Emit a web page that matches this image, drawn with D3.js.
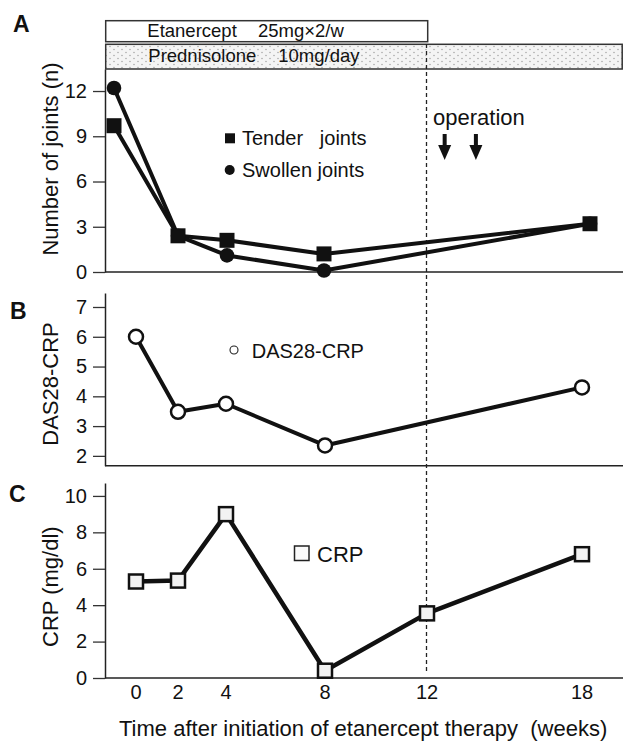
<!DOCTYPE html>
<html>
<head>
<meta charset="utf-8">
<script src="https://cdn.jsdelivr.net/npm/d3@7"></script>
<style>
    body { margin: 0; background: #fff; }
    svg { font-family: "Liberation Sans", Arial, Helvetica, sans-serif; }
</style>
</head>
<body>
<div id="chart"></div>
<script>

// data
var jointWeeks = [0, 2, 4, 8, 18];
var tenderJoints = [9.7, 2.4, 2.1, 1.2, 3.2];
var swollenJoints = [12.2, 2.4, 1.1, 0.1, 3.2];

var dasWeeks = [0, 2, 4, 8, 18];
var das28Crp = [6.0, 3.48, 3.75, 2.35, 4.3];

var crpWeeks = [0, 2, 4, 8, 12, 18];
var crpValues = [5.3, 5.35, 9.0, 0.4, 3.55, 6.8];

var weekTicks = [0, 2, 4, 8, 12, 18];
var jointTicks = [0, 3, 6, 9, 12];
var dasTicks = [2, 3, 4, 5, 6, 7];
var crpTicks = [0, 2, 4, 6, 8, 10];
var operationWeeks = [12.65, 13.8];

var width = 623, height = 741;
var axisX = 105, rightX = 623;

var svg = d3.select("#chart").append("svg")
    .attr("width", width)
    .attr("height", height);

// dotted fill for the prednisolone bar
var pat = svg.append("defs").append("pattern")
    .attr("id", "dots")
    .attr("patternUnits", "userSpaceOnUse")
    .attr("width", 8)
    .attr("height", 6);
pat.append("rect").attr("width", 8).attr("height", 6).attr("fill", "#f4f4f4");
pat.append("circle").attr("cx", 2).attr("cy", 1.5).attr("r", 0.7).attr("fill", "#9a9a9a");
pat.append("circle").attr("cx", 6).attr("cy", 4.5).attr("r", 0.7).attr("fill", "#9a9a9a");

// x scales (the original is hand drawn, so the week spacing is uneven)
var xA = d3.scaleLinear().domain(weekTicks).range([114, 178, 227, 324, 427, 590]);
var xBC = d3.scaleLinear().domain(weekTicks).range([136, 178, 226, 325, 427, 582]);

var yA = d3.scaleLinear().domain([0, 13.46]).range([272, 69]);
var yB = d3.scaleLinear().domain([1.67, 7.47]).range([465.7, 293]);
var yC = d3.scaleLinear().domain([0, 10.71]).range([678, 483]);

function drawYAxis(scale, ticks) {
    var g = svg.append("g")
        .attr("transform", "translate(" + axisX + ",0)")
        .call(d3.axisLeft(scale).tickValues(ticks).tickFormat(d3.format("d"))
            .tickSize(12).tickSizeOuter(0).tickPadding(6));
    g.select(".domain").attr("stroke", "#222").attr("stroke-width", 1.5);
    g.selectAll(".tick line").attr("stroke", "#333").attr("stroke-width", 1.3);
    g.selectAll(".tick text")
        .attr("fill", "#111")
        .style("font-size", "20px")
        .style("font-family", "'Liberation Sans', Arial, sans-serif");
    // baseline
    svg.append("line")
        .attr("x1", axisX).attr("x2", rightX)
        .attr("y1", scale.range()[0]).attr("y2", scale.range()[0])
        .attr("stroke", "#222").attr("stroke-width", 1.5);
}

function yTitle(txt, cy) {
    svg.append("text")
        .attr("transform", "translate(58," + cy + ") rotate(-90)")
        .attr("text-anchor", "middle")
        .style("font-size", "22px")
        .attr("fill", "#111")
        .text(txt);
}

function panelLabel(txt, x, y) {
    svg.append("text")
        .attr("x", x).attr("y", y)
        .style("font-size", "23px")
        .style("font-weight", "bold")
        .attr("fill", "#111")
        .text(txt);
}

// treatment bars
svg.append("rect")
    .attr("x", axisX + 0.7).attr("y", 20.7)
    .attr("width", xBC(12) - axisX).attr("height", 21)
    .attr("fill", "#fff").attr("stroke", "#333").attr("stroke-width", 1.5);
svg.append("rect")
    .attr("x", axisX + 0.7).attr("y", 44.3)
    .attr("width", rightX - axisX - 1.5).attr("height", 24.7)
    .attr("fill", "url(#dots)").attr("stroke", "#333").attr("stroke-width", 1.5);

var barText = svg.append("text").attr("y", 36.7).style("font-size", "18.5px").attr("fill", "#111");
barText.append("tspan").attr("x", 147.3).text("Etanercept");
barText.append("tspan").attr("x", 258).text("25mg\u00d72/w");
var predText = svg.append("text").attr("y", 62.3).style("font-size", "18.5px").attr("fill", "#111");
predText.append("tspan").attr("x", 148.3).text("Prednisolone");
predText.append("tspan").attr("x", 278.3).text("10mg/day");

// dashed line at week 12
svg.append("line")
    .attr("x1", xBC(12) - 0.5).attr("x2", xBC(12) - 0.5)
    .attr("y1", 44).attr("y2", 672)
    .attr("stroke", "#222").attr("stroke-width", 1.3)
    .attr("stroke-dasharray", "4,3");

// ---------- panel A ----------
panelLabel("A", 13, 31.7);
drawYAxis(yA, jointTicks);
yTitle("Number of joints (n)", 159);

var lineA = function (vals) {
    return d3.line()
        .x(function (d, i) { return xA(jointWeeks[i]); })
        .y(function (d) { return yA(d); })(vals);
};

svg.append("path").attr("d", lineA(tenderJoints))
    .attr("fill", "none").attr("stroke", "#111").attr("stroke-width", 4).attr("stroke-linejoin", "round");
svg.append("path").attr("d", lineA(swollenJoints))
    .attr("fill", "none").attr("stroke", "#111").attr("stroke-width", 4).attr("stroke-linejoin", "round");

svg.selectAll(".tender").data(tenderJoints).enter().append("rect")
    .attr("class", "tender")
    .attr("x", function (d, i) { return xA(jointWeeks[i]) - 7.5; })
    .attr("y", function (d) { return yA(d) - 7.5; })
    .attr("width", 15).attr("height", 15)
    .attr("fill", "#111");
svg.selectAll(".swollen").data(swollenJoints).enter().append("circle")
    .attr("class", "swollen")
    .attr("cx", function (d, i) { return xA(jointWeeks[i]); })
    .attr("cy", function (d) { return yA(d); })
    .attr("r", 7.3)
    .attr("fill", "#111");

// legend A
svg.append("rect").attr("x", 225).attr("y", 133.3).attr("width", 10).attr("height", 10).attr("fill", "#111");
svg.append("text").attr("x", 242).attr("y", 145.3).style("font-size", "20px").attr("fill", "#111")
    .style("white-space", "pre").text("Tender   joints");
svg.append("circle").attr("cx", 229.7).attr("cy", 170).attr("r", 5).attr("fill", "#111");
svg.append("text").attr("x", 242).attr("y", 176.5).style("font-size", "20px").attr("fill", "#111")
    .text("Swollen joints");

// operation arrows
svg.append("text").attr("x", 433).attr("y", 125).style("font-size", "22px").attr("fill", "#111").text("operation");
operationWeeks.forEach(function (w) {
    var cx = xA(w);
    svg.append("rect").attr("x", cx - 2).attr("y", 134).attr("width", 4).attr("height", 13).attr("fill", "#111");
    svg.append("path")
        .attr("d", "M" + (cx - 6.5) + ",145L" + (cx + 6.5) + ",145L" + cx + ",160Z")
        .attr("fill", "#111");
});

// ---------- panel B ----------
panelLabel("B", 10, 319);
drawYAxis(yB, dasTicks);
yTitle("DAS28-CRP", 384);

var lineB = d3.line()
    .x(function (d, i) { return xBC(dasWeeks[i]); })
    .y(function (d) { return yB(d); });
svg.append("path").attr("d", lineB(das28Crp))
    .attr("fill", "none").attr("stroke", "#111").attr("stroke-width", 4).attr("stroke-linejoin", "round");
svg.selectAll(".das").data(das28Crp).enter().append("circle")
    .attr("class", "das")
    .attr("cx", function (d, i) { return xBC(dasWeeks[i]); })
    .attr("cy", function (d) { return yB(d); })
    .attr("r", 7)
    .attr("fill", "#fff").attr("stroke", "#111").attr("stroke-width", 2.5);

svg.append("circle").attr("cx", 234).attr("cy", 350).attr("r", 4).attr("fill", "#fff").attr("stroke", "#222").attr("stroke-width", 1.1);
svg.append("text").attr("x", 251.7).attr("y", 358).style("font-size", "20px").attr("fill", "#111").text("DAS28-CRP");

// ---------- panel C ----------
panelLabel("C", 9, 501.7);
drawYAxis(yC, crpTicks);
yTitle("CRP (mg/dl)", 586.7);

var lineC = d3.line()
    .x(function (d, i) { return xBC(crpWeeks[i]); })
    .y(function (d) { return yC(d); });
svg.append("path").attr("d", lineC(crpValues))
    .attr("fill", "none").attr("stroke", "#111").attr("stroke-width", 4.5).attr("stroke-linejoin", "round");
svg.selectAll(".crp").data(crpValues).enter().append("rect")
    .attr("class", "crp")
    .attr("x", function (d, i) { return xBC(crpWeeks[i]) - 7; })
    .attr("y", function (d) { return yC(d) - 7; })
    .attr("width", 14).attr("height", 14)
    .attr("fill", "#f2f2f2").attr("stroke", "#111").attr("stroke-width", 2.5);

svg.append("rect").attr("x", 294.5).attr("y", 546).attr("width", 14.5).attr("height", 14.5)
    .attr("fill", "#fafafa").attr("stroke", "#222").attr("stroke-width", 1.5);
svg.append("text").attr("x", 317).attr("y", 561.7).style("font-size", "22px").attr("fill", "#111").text("CRP");

// x tick labels
svg.selectAll(".wk").data(weekTicks).enter().append("text")
    .attr("class", "wk")
    .attr("x", function (d) { return xBC(d); })
    .attr("y", 699)
    .attr("text-anchor", "middle")
    .style("font-size", "20px")
    .attr("fill", "#111")
    .text(function (d) { return d; });

svg.append("text")
    .attr("x", 119).attr("y", 736)
    .style("font-size", "22px")
    .style("white-space", "pre")
    .attr("fill", "#111")
    .text("Time after initiation of etanercept therapy  (weeks)");

</script>
</body>
</html>
